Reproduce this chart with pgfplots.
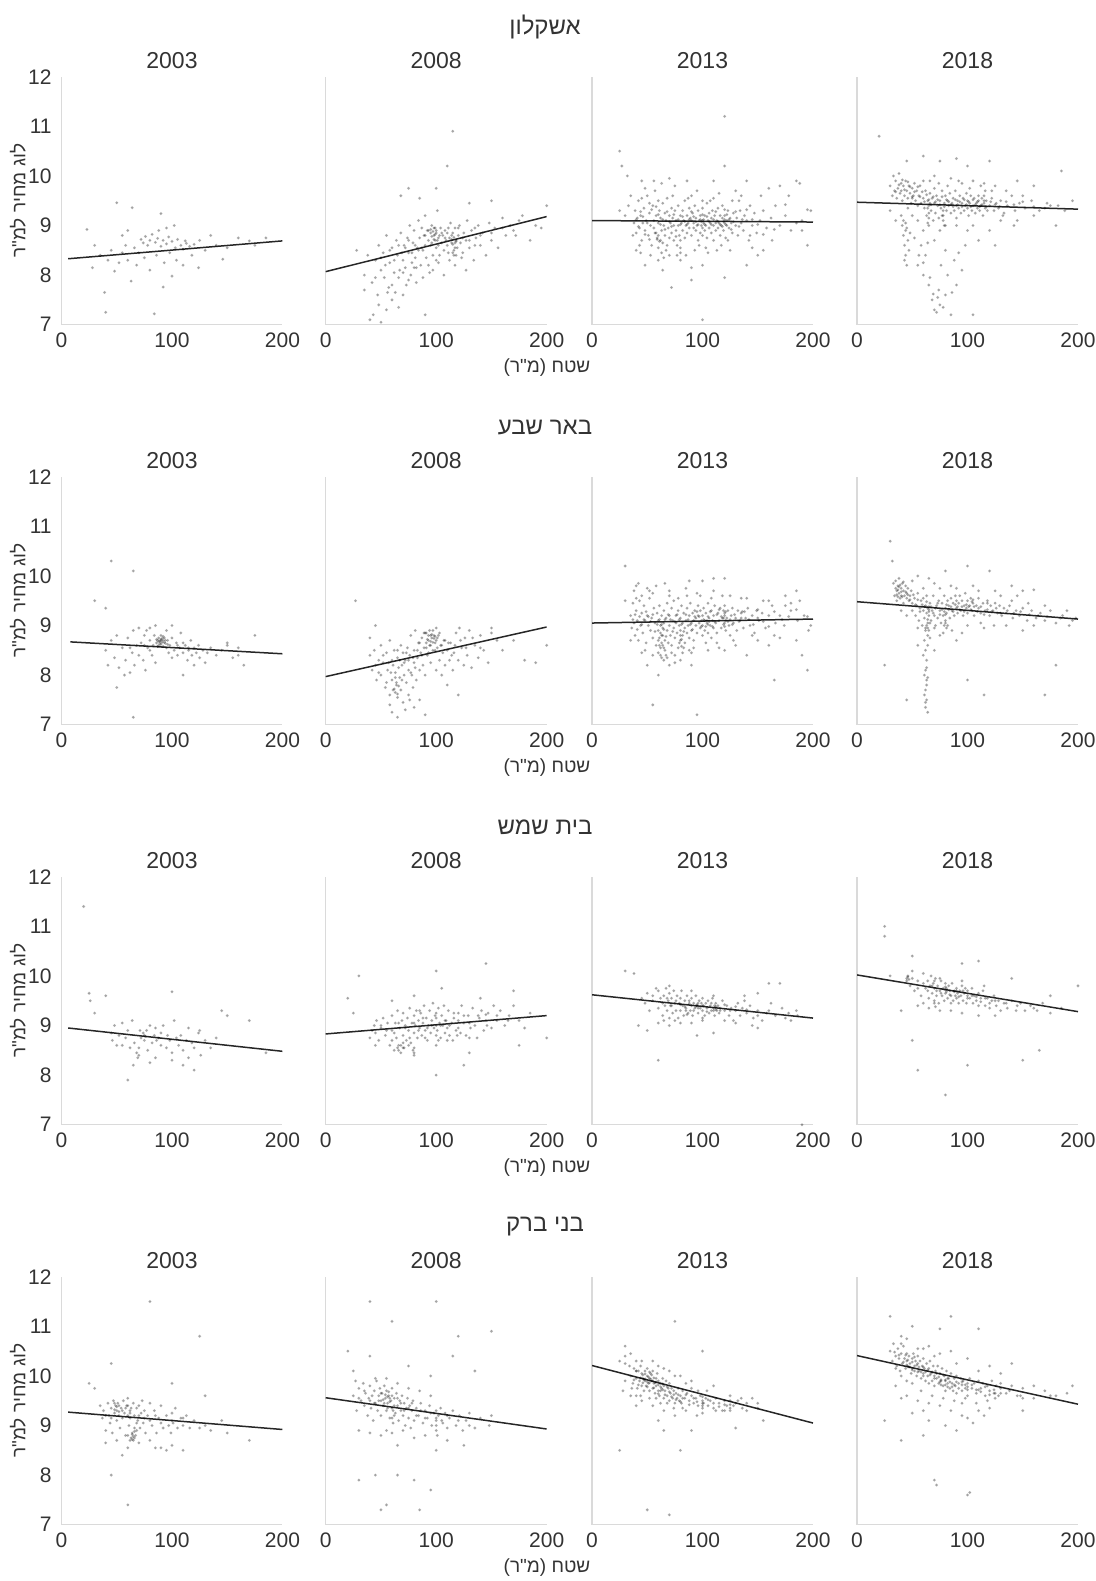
\documentclass[border=0pt]{standalone}
\usepackage{fontspec}
\setmainfont{Liberation Sans}
\newfontfamily\heb[Script=Hebrew]{Liberation Sans}
\usepackage{pgfplots}
\pgfplotsset{compat=1.18}
\TeXXeTstate=1
\newcommand{\he}[1]{{\heb\beginR #1\endR}}
\definecolor{txt}{HTML}{333333}
\definecolor{axgray}{HTML}{DADADA}

\pgfplotsset{
  every axis title shift=0pt,
  panel/.style={
    scale only axis, width=110.5pt, height=124pt, anchor=south west,
    xmin=0, xmax=200, ymin=7, ymax=12,
    axis lines*=left, axis line style={axgray, line width=0.6pt},
    xtick={0,100,200}, ytick=\empty, major tick length=0pt,
    tick label style={font=\fontsize{10.5}{12}\selectfont, text=txt},
    /pgf/number format/assume math mode=true,
    xticklabel style={anchor=center, yshift=-7.65pt},
    title style={font=\fontsize{11.5}{13}\selectfont, text=txt, at={(0.5,1)}, anchor=center, yshift=8pt},
  },
  firstcol/.style={
    ytick={7,8,9,10,11,12},
    yticklabel style={anchor=east, inner sep=0pt, xshift=-4.75pt},
    ylabel={\he{לוג מחיר למ"ר}},
    ylabel style={at={(axis description cs:-0.197,0.5)}, anchor=center, font=\fontsize{9.5}{11}\selectfont, text=txt},
  },
  pts/.style={only marks, mark=*, mark size=0.55pt, mark options={draw=none, fill=black, opacity=0.22}},
  fit/.style={no marks, black!85, line width=0.75pt},
}
\tikzset{city/.style={font=\fontsize{12}{14}\selectfont, text=txt},
  xlab/.style={font=\fontsize{9.5}{11}\selectfont, text=txt}}

\begin{document}
\begin{tikzpicture}
\path[use as bounding box] (0,0) rectangle (548pt,-790.5pt);

% ---------------- Ashkelon ----------------
\node[city] at (272.5pt,-13.5pt) {\he{אשקלון}};
\node[xlab] at (273.5pt,-184pt) {\he{שטח (מ"ר)}};

\begin{axis}[panel, firstcol, at={(30.75pt,-162.35pt)}, title={2003}]
\addplot[pts] coordinates {(23,8.92)(40,7.25)(39,7.65)(50,9.46)(64,9.36)(90,9.24)(92,7.76)(84,7.22)(48,8.08)(63,7.88)(100,7.98)(112,8.69)(146,8.32)(170,8.69)
(72,8.72)(74,8.65)(76,8.78)(78,8.6)(80,8.7)(82,8.82)(85,8.66)(87,8.74)(88,8.9)(90,8.58)(92,8.7)(95,8.63)(97,8.77)(100,8.68)(103,8.55)(105,8.72)(108,8.6)(110,8.52)(113,8.64)(116,8.58)(120,8.62)(125,8.7)
(30,8.6)(35,8.4)(42,8.3)(45,8.5)(52,8.25)(55,8.45)(58,8.6)(60,8.3)(66,8.55)(68,8.2)(70,8.45)(75,8.35)(80,8.1)(86,8.4)(93,8.25)(98,8.45)(104,8.3)(110,8.2)(118,8.4)(124,8.15)(130,8.5)(135,8.8)(140,8.6)(150,8.55)(160,8.75)(175,8.6)(185,8.75)(95,8.95)(102,9.0)(60,8.9)(55,8.8)(28,8.15)};
\addplot[fit] coordinates {(6,8.33)(200,8.69)};
\end{axis}

\begin{axis}[panel, at={(162.85pt,-162.35pt)}, title={2008}]
\addplot[pts] coordinates {(115,10.9)(110,10.2)(68,9.6)(75,9.75)(85,9.55)(100,9.75)(130,9.45)(150,9.5)(200,9.4)(175,9.1)(185,8.7)(28,8.5)(40,7.1)(43,7.2)(50,7.05)(55,7.3)(60,7.5)(90,7.2)(70,7.6)(75,7.9)(35,8.0)(50,8.1)
(45,8.3)(48,8.6)(52,8.45)(55,8.8)(58,8.25)(60,8.55)(62,8.05)(64,8.7)(65,8.4)(66,7.95)(68,8.85)(70,8.3)(71,8.6)(72,8.15)(74,8.75)(75,8.45)(76,9.0)(78,8.25)(79,8.65)(80,8.9)(81,8.35)(82,7.85)(83,8.55)(84,9.1)(85,8.75)(86,8.2)(87,8.95)(88,8.5)(89,8.8)(90,8.6)(90,9.2)(91,8.35)(92,8.9)(93,8.7)(94,8.05)(95,8.85)(95,8.6)(96,9.0)(97,8.4)(98,8.8)(98,8.95)(99,8.7)(100,8.55)(100,8.85)(101,9.3)(102,8.75)(103,8.4)(104,8.95)(105,8.65)(106,8.8)(107,8.5)(108,8.9)(109,8.7)(110,8.6)(110,8.85)(111,8.45)(112,8.75)(113,9.05)(114,8.65)(115,8.85)(116,8.5)(117,8.95)(118,8.7)(119,8.55)(120,8.8)(121,9.0)(122,8.65)(124,8.45)(125,8.85)(127,8.7)(128,9.1)(130,8.55)(132,8.9)(134,8.3)(136,8.75)(138,9.0)(140,8.6)(142,8.85)(145,8.4)(148,9.05)(150,8.7)(153,8.95)(156,8.55)(160,9.15)(163,8.8)(167,9.0)(170,8.9)(178,9.2)(190,9.0)(195,8.95)
(35,7.7)(38,8.4)(42,7.85)(47,7.6)(53,7.95)(57,7.75)(63,7.65)(67,8.1)(73,7.8)(77,8.0)(82,8.15)(88,7.95)(93,8.2)(97,8.1)(102,8.25)(107,8.0)(112,8.3)(117,8.2)(123,8.35)(127,8.1)
(96,8.78)(98,8.72)(99,8.82)(101,8.7)(103,8.8)(114,8.72)(115,8.62)(116,8.76)(117,8.55)(115,8.45)(116,8.4)(118,8.68)(100,8.9)(97,8.88)(95,8.92)};
\addplot[pts] coordinates {(50,8.35)(54,8.2)(58,8.5)(62,8.3)(66,8.6)(69,8.45)(72,8.55)(75,8.7)(78,8.45)(81,8.6)(84,8.5)(87,8.55)(90,8.8)(93,8.9)(96,8.65)(99,8.95)(102,8.6)(105,8.85)(108,8.75)(111,8.95)(114,8.8)(117,8.65)(120,8.95)(124,8.75)(130,8.7)(135,8.95)(140,8.8)(150,8.85)(160,8.95)(172,8.8)(45,7.95)(60,7.8)(70,8.05)(80,8.15)(100,8.3)(118,8.4)(135,8.6)(48,7.4)(66,7.35)(56,7.65)};
\addplot[fit] coordinates {(0,8.07)(200,9.18)};
\end{axis}

\begin{axis}[panel, at={(296pt,-162.35pt)}, title={2013}]
\addplot[pts] coordinates {(25,10.5)(27,10.2)(32,10.0)(45,9.9)(63,9.85)(70,9.95)(110,9.9)(120,11.2)(130,9.7)(160,9.75)(170,9.8)(185,9.9)(188,9.85)(198,9.3)(195,8.6)(150,8.4)(155,8.5)(120,7.95)(100,7.1)(72,7.75)(100,8.2)(80,8.3)(90,8.15)(30,9.2)(25,9.3)(190,9.1)
(38,9.05)(39,9.3)(40,8.85)(41,9.15)(42,9.5)(43,8.95)(44,9.2)(45,8.7)(46,9.05)(47,9.35)(48,8.9)(49,9.1)(50,9.6)(51,8.8)(52,9.25)(53,9.0)(54,8.6)(55,9.4)(56,9.1)(57,8.85)(58,9.2)(59,8.75)(60,9.05)(60,8.55)(61,9.3)(62,8.7)(62,9.15)(63,8.9)(64,9.45)(64,8.65)(65,9.0)(66,9.25)(66,8.8)(67,9.1)(68,8.6)(68,9.55)(69,8.95)(70,9.2)(70,8.75)(71,9.05)(72,9.35)(72,8.85)(73,9.15)(74,8.7)(74,9.0)(75,9.3)(76,8.9)(76,9.1)(77,8.6)(78,9.4)(78,9.0)(79,8.8)(80,9.2)(80,8.55)(80,8.7)(80,8.45)(81,9.05)(82,9.3)(82,8.9)(83,9.1)(84,8.75)(84,9.5)(85,9.0)(86,9.2)(86,8.85)(87,9.05)(88,9.35)(88,8.95)(89,9.15)(90,8.8)(90,9.1)(91,9.25)(92,8.95)(92,9.05)(93,9.4)(94,8.9)(94,9.15)(95,9.0)(96,8.7)(96,9.3)(97,9.1)(98,8.85)(98,9.2)(99,9.0)(100,9.1)(100,8.8)(100,9.35)(101,9.05)(102,8.9)(102,9.2)(103,9.0)(104,9.45)(104,8.75)(105,9.1)(106,8.95)(106,9.25)(107,9.05)(108,8.85)(108,9.15)(109,9.3)(110,9.0)(110,8.7)(111,9.2)(112,9.05)(112,8.9)(113,9.1)(114,9.35)(114,8.95)(115,9.05)(116,9.2)(116,8.8)(117,9.0)(118,9.15)(118,9.4)(119,8.9)(120,9.05)(120,9.2)(121,8.75)(122,9.1)(122,9.0)(123,9.3)(124,8.95)(125,9.15)(126,9.05)(127,8.85)(128,9.25)(130,9.0)(131,9.15)(132,8.8)(134,9.3)(135,9.05)(137,8.9)(138,9.2)(140,9.1)(142,8.7)(143,9.4)(145,9.0)(147,9.25)(149,8.85)(152,9.1)(155,9.3)(158,8.95)(162,9.15)(166,9.4)(170,9.0)(175,9.2)(180,8.9)(185,9.05)
(35,9.6)(40,8.5)(48,9.75)(53,8.4)(57,9.7)(65,8.35)(75,9.8)(85,8.4)(95,9.7)(105,8.45)(115,9.65)(125,8.5)(135,9.6)(145,8.55)(60,8.3)(70,8.4)(90,9.6)(110,9.55)(44,8.45)(100,9.5)
(59,8.72)(60,8.8)(61,8.68)(58,8.85)(100,8.95)(101,9.12)(99,9.08)(120,9.12)(121,9.02)(119,9.08)};
\addplot[pts] coordinates {(40,9.12)(42,8.98)(44,9.28)(46,9.18)(48,8.82)(50,9.05)(52,8.72)(54,9.32)(56,8.95)(58,9.38)(60,9.22)(62,9.02)(64,9.12)(66,8.92)(68,9.28)(70,9.08)(72,8.98)(74,9.22)(76,8.78)(78,9.12)(80,9.02)(82,9.18)(84,9.08)(86,9.02)(88,9.12)(90,9.28)(92,9.18)(94,9.08)(96,9.02)(98,9.12)(100,9.22)(102,9.02)(104,9.18)(106,9.08)(108,9.02)(110,9.12)(112,9.28)(114,9.08)(116,9.02)(118,8.98)(120,9.32)(122,9.22)(124,9.12)(126,8.92)(128,9.08)(130,9.28)(133,8.98)(136,9.12)(140,9.32)(145,9.12)(150,9.02)(155,8.82)(165,8.92)(175,9.42)(195,9.32)
(45,9.55)(52,9.45)(60,9.5)(67,8.5)(73,9.6)(87,9.55)(97,8.6)(107,9.5)(117,8.6)(127,9.5)(37,8.8)(33,9.4)(43,8.6)(63,8.45)(77,8.4)(93,8.5)(103,8.55)(113,8.5)(123,8.7)(133,9.5)(143,8.8)(153,9.6)(163,8.7)(178,9.6)(190,8.9)(56,9.9)(86,9.9)(140,9.9)(120,10.2)(64,8.1)(90,7.9)(140,8.2)(48,8.2)};
\addplot[fit] coordinates {(0,9.1)(200,9.07)};
\end{axis}

\begin{axis}[panel, at={(428.5pt,-162.35pt)}, title={2018}]
\addplot[pts] coordinates {(20,10.8)(120,10.3)(185,10.1)(180,9.0)(160,9.8)(150,9.6)(175,9.4)(195,9.5)(60,10.4)(75,10.3)(90,10.35)(100,10.2)(45,10.3)
(30,9.8)(32,9.6)(33,10.0)(34,9.7)(35,9.9)(36,9.55)(37,9.75)(38,10.05)(39,9.65)(40,9.85)(40,9.7)(41,9.5)(42,9.8)(43,9.6)(44,9.9)(45,9.7)(46,9.55)(47,9.8)(48,9.65)(49,9.45)(50,9.75)(51,9.6)(52,9.85)(53,9.5)(54,9.7)(55,9.4)(56,9.6)(57,9.8)(58,9.45)
(60,9.55)(61,9.35)(62,9.7)(63,9.2)(64,9.5)(65,9.0)(65,9.4)(66,9.65)(67,9.3)(68,9.55)(69,9.1)(70,9.45)(70,9.75)(71,9.25)(72,9.6)(73,9.4)(74,9.15)(75,9.5)(76,9.35)(77,9.7)(78,9.2)(79,9.45)(80,9.6)(80,9.0)(81,9.3)(82,9.5)(83,9.4)(84,9.65)(85,9.25)(86,9.45)(87,9.55)(88,9.3)(89,9.7)(90,9.4)(90,9.15)(91,9.5)(92,9.35)(93,9.6)(94,9.25)(95,9.45)(96,9.55)(97,9.3)(98,9.4)(99,9.65)(100,9.35)(100,9.5)(101,9.2)(102,9.45)(103,9.6)(104,9.3)(105,9.4)(106,9.55)(107,9.25)(108,9.45)(109,9.35)(110,9.5)(110,9.6)(111,9.3)(112,9.4)(113,9.55)(114,9.2)(115,9.45)(116,9.35)(117,9.5)(118,9.3)(120,9.4)(122,9.55)(124,9.3)(126,9.45)(128,9.35)(130,9.5)(133,9.25)(136,9.4)(140,9.6)(143,9.3)(147,9.45)(152,9.35)(158,9.5)(165,9.3)(172,9.45)(188,9.3)
(64,9.05)(65,9.15)(65,9.25)(64,9.35)(66,9.45)(78,9.1)(78,9.3)(79,9.0)(77,9.2)(115,9.5)(115,9.6)(116,9.7)
(40,9.2)(41,9.0)(42,8.8)(43,8.6)(44,8.4)(45,8.2)(42,9.1)(44,8.9)(46,8.7)(43,8.3)(47,8.5)(45,8.95)
(55,8.2)(60,8.0)(65,7.8)(68,7.5)(70,7.3)(72,7.25)(75,7.4)(80,7.6)(85,7.2)(90,7.8)(95,8.1)(62,8.4)(58,8.6)(70,8.7)(80,8.5)(88,8.3)(100,8.9)(110,8.7)(120,8.9)(125,8.6)(105,7.2)(73,7.55)(69,7.62)
(30,9.3)(35,9.1)(50,9.2)(55,9.1)(60,9.9)(70,10.0)(85,9.95)(95,9.85)(105,9.9)(115,9.85)(125,9.8)(135,9.7)(145,9.9)(60,8.9)(75,8.9)(90,9.0)(105,9.0)(130,9.1)(145,9.1)(160,9.2)};
\addplot[pts] coordinates {(35,9.68)(38,9.82)(41,9.92)(43,9.72)(46,9.88)(48,9.78)(50,9.58)(52,9.68)(55,9.78)(57,9.58)(59,9.68)(61,9.48)(63,9.62)(65,9.52)(67,9.42)(69,9.58)(71,9.48)(73,9.52)(75,9.42)(77,9.58)(79,9.38)(81,9.52)(83,9.48)(85,9.42)(87,9.38)(89,9.52)(91,9.42)(93,9.48)(95,9.38)(97,9.52)(99,9.42)(101,9.48)(103,9.38)(105,9.52)(107,9.42)(109,9.48)(111,9.38)(113,9.42)(117,9.38)(121,9.48)(125,9.42)(129,9.38)(135,9.48)(142,9.42)(150,9.48)(160,9.38)(170,9.35)(182,9.4)
(44,9.05)(46,9.35)(48,8.85)(50,9.55)(52,8.75)(66,9.9)(74,9.85)(82,9.8)(92,9.9)(102,9.75)(112,9.8)(122,9.7)(132,9.2)(142,9.0)(56,8.4)(60,8.25)(66,7.95)(74,7.7)(78,7.35)(82,8.0)(86,7.65)(92,8.45)(98,8.6)(64,8.65)(76,8.2)};
\addplot[fit] coordinates {(0,9.47)(200,9.33)};
\end{axis}

% ---------------- Beer Sheva ----------------
\node[city] at (272.5pt,-213.5pt) {\he{באר שבע}};
\node[xlab] at (273.5pt,-384pt) {\he{שטח (מ"ר)}};

\begin{axis}[panel, firstcol, at={(30.75pt,-362.35pt)}, title={2003}]
\addplot[pts] coordinates {(45,10.3)(65,10.1)(30,9.5)(40,9.35)(65,7.15)(50,7.75)(175,8.8)(165,8.2)(150,8.6)(160,8.4)
(40,8.5)(42,8.2)(45,8.7)(48,8.35)(50,8.8)(52,8.15)(55,8.55)(58,8.3)(60,8.75)(62,8.05)(64,8.45)(65,8.9)(66,8.2)(68,8.6)(70,8.4)(70,8.95)(72,8.65)(74,8.3)(75,8.8)(76,8.1)(78,8.55)(80,8.7)(80,8.95)(82,8.4)(83,8.6)(84,8.8)(85,8.25)(86,8.65)(87,8.7)(88,8.6)(88,8.75)(89,8.68)(90,8.62)(90,8.72)(90,8.8)(91,8.66)(92,8.58)(92,8.7)(93,8.75)(94,8.64)(95,8.55)(95,8.9)(96,8.7)(97,8.45)(98,8.6)(100,8.35)(100,8.75)(102,8.5)(104,8.65)(105,8.4)(107,8.55)(108,8.85)(110,8.45)(112,8.6)(114,8.3)(115,8.5)(117,8.7)(118,8.4)(120,8.55)(120,8.2)(122,8.45)(124,8.6)(125,8.35)(128,8.5)(130,8.25)(132,8.45)(135,8.55)(140,8.4)(145,8.5)(150,8.65)(155,8.35)(160,8.55)(62,8.55)(57,8.0)(77,8.9)(110,8.0)(100,9.0)(85,9.0)
(86,8.72)(88,8.68)(90,8.7)(91,8.74)(93,8.66)(89,8.64)(92,8.78)(87,8.58)(94,8.7)(96,8.62)(105,8.6)(110,8.65)(115,8.55)(75,8.6)(80,8.5)};
\addplot[fit] coordinates {(8,8.67)(200,8.43)};
\end{axis}

\begin{axis}[panel, at={(162.85pt,-362.35pt)}, title={2008}]
\addplot[pts] coordinates {(27,9.5)(45,9.0)(40,8.75)(65,7.15)(60,7.25)(80,7.35)(90,7.2)(120,7.6)(150,8.95)(150,8.85)(180,8.3)(190,8.25)(200,8.6)(170,8.7)(160,8.5)
(40,8.4)(42,8.1)(44,8.5)(46,7.9)(48,8.3)(50,8.6)(50,8.0)(52,8.25)(54,7.75)(55,8.45)(56,8.1)(58,8.7)(58,7.6)(60,8.3)(60,7.9)(61,7.7)(62,8.5)(63,8.05)(64,7.8)(65,8.35)(65,7.55)(66,8.15)(67,7.95)(68,8.6)(68,7.7)(69,8.2)(70,7.45)(70,8.45)(71,8.0)(72,8.3)(73,7.85)(74,8.55)(75,8.1)(75,7.6)(76,8.4)(77,8.8)(78,8.0)(79,7.75)(80,8.5)(80,8.25)(81,8.9)(82,7.9)(83,8.35)(84,8.65)(85,8.1)(85,7.5)(86,8.45)(87,8.75)(88,8.2)(89,8.55)(90,8.0)(90,8.85)(91,8.65)(92,8.4)(93,8.7)(94,8.9)(95,8.6)(95,8.25)(96,8.75)(97,8.5)(98,8.8)(99,8.65)(100,8.1)(100,8.7)(100,8.95)(101,8.55)(102,8.8)(103,8.3)(104,8.6)(105,8.0)(106,8.45)(107,8.7)(108,8.2)(110,8.5)(110,7.8)(112,8.3)(113,8.65)(115,8.1)(116,8.45)(118,8.85)(120,8.3)(121,8.95)(123,8.55)(125,8.2)(126,8.75)(128,8.4)(130,8.9)(132,8.15)(135,8.6)(138,8.35)(140,8.8)(143,8.5)(147,8.25)(155,8.7)
(92,8.72)(93,8.8)(95,8.68)(96,8.82)(97,8.66)(98,8.74)(94,8.6)(99,8.78)(91,8.85)(62,7.72)(63,7.65)(64,7.85)(66,7.78)(65,7.62)};
\addplot[pts] coordinates {(45,8.2)(48,8.05)(52,8.4)(55,7.85)(57,8.25)(59,8.05)(61,8.2)(63,7.95)(65,8.5)(67,8.3)(69,7.9)(71,8.25)(73,8.45)(75,8.3)(77,8.05)(79,8.35)(81,8.15)(83,8.5)(85,8.65)(87,8.4)(89,8.85)(91,8.55)(93,8.45)(95,8.8)(97,8.9)(99,8.5)(101,8.75)(103,8.85)(105,8.6)(108,8.7)(111,8.65)(114,8.4)(117,8.6)(122,8.7)(127,8.55)(133,8.75)(140,8.55)(58,7.4)(72,7.3)(76,7.5)};
\addplot[fit] coordinates {(0,7.97)(200,8.97)};
\end{axis}

\begin{axis}[panel, at={(296pt,-362.35pt)}, title={2013}]
\addplot[pts] coordinates {(30,10.2)(40,9.8)(55,7.4)(95,7.2)(165,7.9)(60,8.0)(100,9.9)(120,9.95)(190,8.4)(195,8.1)(185,9.7)(175,9.6)(30,9.5)(35,8.7)(75,8.25)(80,8.3)
(35,9.2)(36,8.95)(37,9.45)(38,9.05)(39,8.8)(40,9.3)(41,9.1)(42,8.7)(43,9.5)(44,9.0)(45,9.25)(46,8.85)(47,9.4)(48,9.1)(49,8.65)(50,9.2)(51,9.0)(52,9.55)(53,8.9)(54,9.15)(55,8.75)(56,9.35)(57,9.05)(58,8.6)(59,9.25)(60,8.9)(60,9.1)(60,8.7)(61,9.4)(62,8.55)(62,9.0)(63,9.2)(64,8.8)(64,8.6)(65,9.05)(65,9.3)(66,8.7)(66,8.5)(67,9.15)(68,8.9)(68,9.45)(69,8.65)(70,9.0)(70,9.2)(71,8.8)(72,9.35)(72,8.6)(73,9.1)(74,8.95)(74,9.5)(75,8.75)(76,9.2)(76,9.05)(77,8.85)(78,9.3)(78,8.55)(79,9.0)(80,8.7)(80,9.15)(80,8.9)(81,9.4)(82,8.8)(82,9.05)(83,9.25)(84,8.95)(84,8.65)(85,9.1)(86,9.35)(86,8.85)(87,9.0)(88,9.2)(88,8.75)(89,9.45)(90,9.05)(90,8.9)(91,9.25)(92,9.1)(92,8.7)(93,9.3)(94,9.0)(94,9.15)(95,8.85)(96,9.4)(96,9.2)(97,9.05)(98,8.95)(98,9.3)(99,9.1)(100,9.2)(100,8.8)(100,9.0)(101,9.35)(102,9.1)(102,8.9)(103,9.25)(104,9.05)(105,9.45)(105,8.85)(106,9.15)(107,9.0)(108,9.3)(108,8.75)(109,9.1)(110,9.2)(110,8.95)(111,9.4)(112,9.05)(113,8.85)(114,9.25)(115,9.1)(116,9.35)(117,8.95)(118,9.15)(119,9.3)(120,9.05)(120,9.2)(120,9.4)(121,8.9)(122,9.15)(123,9.3)(124,9.0)(125,8.8)(126,9.2)(127,9.35)(128,9.05)(130,9.15)(131,8.9)(132,9.3)(134,9.1)(135,9.25)(137,8.95)(139,9.15)(141,9.35)(143,9.0)(145,9.2)(147,8.85)(149,9.3)(151,9.1)(154,9.25)(157,8.95)(160,9.2)(163,9.4)(166,9.05)(170,9.2)(174,9.0)(180,9.3)(186,9.1)(192,9.2)(198,9.0)
(38,9.7)(45,8.45)(50,9.75)(55,8.4)(58,9.8)(65,8.3)(70,9.7)(75,8.4)(85,9.75)(90,8.45)(95,9.65)(105,8.5)(110,9.7)(115,8.55)(125,9.6)(130,8.6)(140,9.55)(150,8.7)(160,9.5)(170,8.75)(180,9.45)(62,8.4)(68,8.35)(82,8.45)(88,8.5)(45,9.6)(55,9.65)
(61,8.75)(62,8.85)(63,8.65)(64,8.95)(63,8.8)(61,8.6)(79,8.65)(80,8.8)(81,8.72)(81,8.58)(104,9.1)(105,9.02)(106,9.08)(119,9.15)(120,9.25)(121,9.1)(120,8.98)(135,9.15)(136,9.28)(150,9.15)};
\addplot[pts] coordinates {(37,9.12)(39,9.22)(41,8.92)(43,9.18)(45,9.02)(47,9.12)(49,9.28)(51,9.18)(53,9.08)(55,9.22)(57,8.88)(59,9.02)(61,9.12)(63,9.02)(65,8.92)(66,9.12)(67,8.78)(69,9.22)(71,9.12)(73,8.88)(75,9.08)(77,9.22)(79,9.12)(81,9.02)(83,8.88)(85,9.22)(87,9.12)(89,9.02)(91,8.92)(93,9.18)(95,9.28)(97,9.18)(99,8.98)(101,9.12)(103,8.98)(105,9.18)(107,9.28)(109,8.98)(111,9.08)(113,9.22)(115,9.32)(117,9.18)(119,9.02)(121,9.28)(123,9.08)(125,9.12)(127,9.02)(129,9.22)(133,9.08)(138,9.28)(142,9.12)(146,9.02)(150,9.32)(155,9.08)(160,8.98)(165,9.28)(172,9.12)(178,9.18)(185,9.32)(195,9.18)
(40,9.55)(48,8.5)(52,9.7)(60,8.45)(63,8.35)(65,8.55)(67,8.4)(70,9.6)(72,8.45)(78,9.55)(83,8.55)(86,9.6)(92,8.55)(98,9.6)(103,8.65)(108,9.55)(113,8.65)(118,9.6)(128,8.7)(135,9.55)(145,8.8)(155,9.5)(165,8.8)(175,9.4)(188,9.5)(196,8.9)(42,9.85)(66,9.85)(88,9.9)(110,9.95)(50,8.2)(70,8.2)(90,8.2)(120,8.5)(140,8.4)(160,8.6)(185,8.7)};
\addplot[fit] coordinates {(0,9.05)(200,9.13)};
\end{axis}

\begin{axis}[panel, at={(428.5pt,-362.35pt)}, title={2018}]
\addplot[pts] coordinates {(30,10.7)(32,10.3)(25,8.2)(45,7.5)(70,8.5)(55,8.6)(90,8.7)(100,7.9)(115,7.6)(170,7.6)(180,8.2)(100,10.2)(120,10.1)(80,10.1)(140,9.8)(150,9.7)
(33,9.85)(34,9.6)(35,9.9)(36,9.7)(36,9.5)(37,9.8)(38,9.65)(38,9.95)(39,9.55)(40,9.75)(40,9.6)(41,9.85)(42,9.45)(42,9.7)(43,9.6)(44,9.8)(45,9.55)(45,9.65)(46,9.75)(47,9.5)(48,9.6)(49,9.7)(50,9.45)(36,9.62)(37,9.72)(39,9.82)(41,9.58)
(50,9.3)(52,9.55)(53,9.2)(54,9.4)(55,9.65)(56,9.1)(57,9.35)(58,9.5)(59,9.0)(60,9.3)(60,9.55)(61,9.15)(62,9.4)(62,8.95)(63,9.25)(63,9.6)(64,9.05)(64,9.35)(65,9.2)(65,8.9)(66,9.45)(67,9.1)(68,9.3)(69,9.6)(70,9.2)(71,9.0)(72,9.4)(73,9.15)(74,9.5)(75,9.3)(76,9.05)(77,9.45)(78,9.2)(79,9.6)(80,9.35)(80,9.1)(81,9.25)(82,9.5)(82,9.0)(83,9.4)(84,9.15)(85,9.55)(86,9.3)(87,9.45)(88,9.2)(89,9.6)(90,9.35)(90,9.5)(91,9.25)(92,9.45)(93,9.6)(94,9.3)(95,9.5)(96,9.2)(97,9.4)(98,9.65)(99,9.35)(100,9.25)(100,9.5)(102,9.4)(103,9.55)(104,9.3)(105,9.45)(106,9.2)(108,9.4)(110,9.35)(110,9.55)(112,9.25)(114,9.45)(116,9.3)(118,9.5)(120,9.2)(121,9.4)(123,9.3)(125,9.45)(127,9.25)(129,9.4)(131,9.2)(133,9.35)(135,9.25)(138,9.4)(141,9.15)(144,9.3)(147,9.2)(150,9.35)(154,9.1)(158,9.3)(162,9.15)(166,9.25)(170,9.1)(175,9.3)(180,9.05)(186,9.2)(192,9.0)(198,9.15)
(63,9.0)(64,9.12)(65,9.28)(66,9.05)(64,8.95)(65,9.38)(79,9.0)(80,9.22)(81,8.95)(80,9.05)(104,9.48)(105,9.52)(118,9.45)(160,9.72)
(61,8.7)(62,8.5)(63,8.3)(62,8.1)(63,7.9)(62,7.7)(63,7.5)(62,7.35)(64,7.25)(61,8.0)(64,8.6)(63,7.8)
(45,9.2)(50,9.9)(55,8.95)(70,9.85)(75,8.8)(85,9.8)(95,8.85)(105,9.8)(115,8.95)(125,9.7)(135,9.0)(145,9.6)(55,10.0)(65,9.95)(40,9.3)};
\addplot[pts] coordinates {(35,9.75)(37,9.58)(38,9.78)(40,9.68)(42,9.88)(44,9.68)(46,9.62)(48,9.52)(51,9.62)(53,9.42)(55,9.52)(57,9.28)(59,9.42)(61,9.38)(63,9.48)(65,9.32)(67,9.38)(69,9.25)(71,9.35)(73,9.45)(75,9.22)(77,9.32)(79,9.28)(81,9.42)(83,9.32)(85,9.38)(87,9.28)(89,9.42)(91,9.38)(93,9.32)(95,9.38)(97,9.28)(99,9.42)(101,9.38)(103,9.32)(106,9.38)(109,9.28)(112,9.38)(115,9.22)(118,9.32)(122,9.28)(126,9.35)(130,9.25)(136,9.3)(142,9.25)(148,9.28)(156,9.22)(164,9.2)(172,9.18)(184,9.15)(195,9.1)
(60,8.4)(63,8.15)(61,7.6)(64,7.95)(62,7.45)(62,8.9)(64,8.8)(66,8.75)(70,8.95)(78,8.85)(86,8.9)(100,9.0)(112,9.05)(124,9.0)(140,9.5)(155,9.45)(170,9.4)(190,9.3)(60,9.75)(75,9.75)(90,9.75)(110,9.7)(130,9.6)(150,8.9)(160,9.0)};
\addplot[fit] coordinates {(0,9.48)(200,9.13)};
\end{axis}

% ---------------- Beit Shemesh ----------------
\node[city] at (272.5pt,-413.5pt) {\he{בית שמש}};
\node[xlab] at (273.5pt,-584pt) {\he{שטח (מ"ר)}};

\begin{axis}[panel, firstcol, at={(30.75pt,-562.35pt)}, title={2003}]
\addplot[pts] coordinates {(20,11.4)(25,9.65)(26,9.5)(40,9.6)(100,9.68)(145,9.3)(170,9.1)(60,7.9)(120,8.1)(100,8.3)(65,8.2)(185,8.45)(150,9.2)(30,9.25)
(45,8.85)(46,8.7)(48,9.0)(50,8.6)(52,8.8)(55,9.05)(58,8.75)(60,8.9)(62,8.55)(64,9.1)(66,8.65)(68,8.45)(69,8.35)(70,8.55)(71,8.9)(72,8.75)(74,8.85)(75,8.8)(75,8.7)(76,8.78)(77,8.9)(78,8.5)(80,9.0)(82,8.65)(84,8.8)(85,8.95)(86,8.7)(88,8.75)(90,8.6)(90,8.85)(92,9.0)(95,8.55)(96,8.8)(98,8.7)(100,8.45)(102,9.1)(104,8.75)(106,8.6)(108,8.8)(110,8.5)(113,8.7)(115,8.95)(118,8.65)(120,8.55)(124,8.85)(126,8.4)(130,8.7)(135,8.55)(140,8.75)(115,8.35)(85,8.35)(80,8.25)(70,8.4)(110,8.2)(125,8.9)(55,8.6)};
\addplot[fit] coordinates {(6,8.95)(200,8.48)};
\end{axis}

\begin{axis}[panel, at={(162.85pt,-562.35pt)}, title={2008}]
\addplot[pts] coordinates {(30,10.0)(100,10.1)(145,10.25)(100,8.0)(125,8.2)(20,9.55)(25,9.25)(105,9.75)(170,9.7)(140,9.55)(60,9.5)(80,9.6)(200,8.75)(175,8.6)(130,8.45)
(40,8.75)(42,8.9)(44,9.0)(45,8.85)(46,9.1)(48,8.7)(50,8.95)(52,9.15)(54,8.8)(56,9.05)(58,8.6)(60,8.9)(60,9.2)(62,8.5)(63,9.05)(64,8.75)(65,9.3)(66,8.6)(67,8.95)(68,8.45)(69,9.1)(70,8.8)(70,9.25)(71,8.55)(72,9.0)(73,8.7)(74,9.15)(75,8.9)(76,9.35)(77,8.65)(78,9.05)(79,8.5)(80,8.85)(80,9.2)(80,8.45)(81,9.0)(82,9.3)(83,8.75)(84,9.1)(85,8.95)(86,9.25)(87,8.8)(88,9.05)(89,9.4)(90,8.9)(91,9.15)(92,8.7)(93,9.0)(94,9.3)(95,8.85)(96,9.1)(97,9.45)(98,8.95)(99,9.2)(100,8.8)(100,9.0)(100,9.25)(101,8.9)(102,9.35)(103,9.05)(104,8.75)(105,9.2)(106,9.0)(107,9.4)(108,8.85)(109,9.1)(110,8.95)(111,9.3)(112,8.8)(114,9.05)(115,8.7)(116,9.25)(118,8.9)(119,8.8)(120,9.1)(120,9.25)(122,8.85)(123,9.4)(125,9.05)(127,8.8)(129,9.2)(131,8.95)(133,9.35)(135,9.0)(137,8.75)(139,9.15)(141,9.3)(143,8.9)(145,9.1)(145,9.22)(147,9.25)(150,8.95)(152,9.4)(155,9.1)(158,9.3)(162,9.0)(166,9.2)(170,9.4)(175,9.1)(180,8.95)(185,9.25)
(45,8.6)(65,8.55)(68,8.6)(70,8.65)(66,8.5)(80,8.55)(80,8.4)(100,8.6)(102,8.7)};
\addplot[pts] coordinates {(50,9.0)(55,8.9)(62,8.85)(66,9.05)(72,8.95)(76,8.75)(80,9.05)(84,8.9)(88,9.15)(92,8.95)(96,9.0)(100,9.15)(104,9.0)(108,9.1)(112,9.0)(116,9.15)(120,8.95)(125,9.2)(130,9.05)(138,9.2)(146,9.0)(155,9.2)(165,9.1)(70,8.55)(75,8.6)(90,8.75)(110,8.7)(130,8.75)(60,8.7)(85,9.3)};
\addplot[fit] coordinates {(0,8.83)(200,9.2)};
\end{axis}

\begin{axis}[panel, at={(296pt,-562.35pt)}, title={2013}]
\addplot[pts] coordinates {(30,10.1)(38,10.05)(60,8.3)(95,8.8)(190,7.0)(160,9.85)(170,9.85)(150,9.65)(42,9.0)(50,8.9)(110,8.85)(150,8.95)(180,9.1)(185,9.3)
(45,9.55)(48,9.45)(50,9.65)(52,9.3)(55,9.5)(58,9.75)(60,9.35)(62,9.55)(64,9.2)(65,9.6)(66,9.4)(67,9.75)(68,9.3)(69,9.5)(70,9.15)(70,9.65)(71,9.4)(72,9.55)(73,9.25)(74,9.7)(75,9.45)(76,9.3)(77,9.6)(78,9.15)(79,9.45)(80,9.55)(80,9.3)(81,9.7)(82,9.4)(83,9.2)(84,9.5)(85,9.35)(86,9.6)(87,9.25)(88,9.45)(89,9.3)(90,9.55)(90,9.4)(91,9.2)(92,9.45)(93,9.35)(94,9.6)(95,9.4)(96,9.25)(97,9.5)(98,9.35)(99,9.45)(100,9.3)(100,9.55)(101,9.4)(102,9.2)(103,9.45)(104,9.35)(105,9.5)(106,9.25)(107,9.4)(108,9.3)(109,9.55)(110,9.35)(111,9.2)(112,9.45)(113,9.3)(114,9.4)(115,9.25)(116,9.35)(118,9.5)(120,9.3)(122,9.4)(124,9.2)(126,9.35)(128,9.1)(130,9.3)(132,9.45)(134,9.2)(136,9.35)(138,9.6)(140,9.25)(143,9.4)(146,9.15)(150,9.3)(154,9.1)(158,9.25)(162,9.45)(166,9.2)(172,9.35)(178,9.25)(186,9.2)
(94,9.38)(95,9.42)(96,9.35)(85,9.3)(86,9.22)(110,9.3)(111,9.4)(112,9.32)(138,9.5)
(60,9.05)(70,9.0)(80,9.05)(90,9.05)(100,9.1)(75,9.1)(65,9.1)(130,9.05)(145,9.0)};
\addplot[pts] coordinates {(55,9.6)(60,9.7)(64,9.45)(68,9.55)(72,9.4)(76,9.5)(80,9.42)(84,9.38)(88,9.5)(92,9.3)(96,9.45)(100,9.4)(104,9.28)(108,9.45)(112,9.38)(116,9.3)(120,9.42)(125,9.3)(130,9.38)(140,9.32)(150,9.2)(160,9.3)(175,9.15)(70,9.8)(90,9.7)(110,9.6)(120,9.1)(100,9.15)};
\addplot[fit] coordinates {(0,9.62)(200,9.15)};
\end{axis}

\begin{axis}[panel, at={(428.5pt,-562.35pt)}, title={2018}]
\addplot[pts] coordinates {(25,11.0)(25,10.8)(50,10.4)(55,8.1)(100,8.2)(150,8.3)(80,7.6)(165,8.5)(50,8.7)(40,9.3)(30,10.0)(175,9.6)(200,9.8)(140,9.95)(110,10.3)(95,10.25)
(45,9.95)(45,9.9)(46,10.0)(48,9.8)(50,10.1)(52,9.7)(55,9.9)(58,9.6)(60,10.05)(62,9.75)(64,9.9)(65,9.55)(66,9.8)(67,10.0)(68,9.65)(69,9.85)(70,9.5)(70,9.75)(71,9.95)(72,9.6)(73,9.8)(74,9.45)(75,9.7)(76,9.9)(77,9.6)(78,9.75)(79,9.5)(80,9.85)(80,9.65)(81,9.75)(82,9.55)(83,9.8)(84,9.7)(85,9.6)(86,9.85)(87,9.5)(88,9.7)(89,9.6)(90,9.75)(90,9.55)(91,9.65)(92,9.45)(93,9.7)(94,9.6)(95,9.8)(96,9.5)(97,9.65)(98,9.75)(99,9.45)(100,9.6)(100,9.7)(102,9.55)(104,9.75)(105,9.45)(106,9.6)(108,9.5)(110,9.65)(110,9.4)(112,9.55)(114,9.7)(116,9.4)(118,9.55)(120,9.35)(122,9.5)(124,9.6)(126,9.4)(128,9.5)(130,9.3)(133,9.45)(136,9.35)(140,9.5)(144,9.3)(148,9.45)(152,9.3)(157,9.4)(163,9.3)(168,9.45)(175,9.25)(185,9.35)
(46,9.98)(47,9.93)(70,9.45)(71,9.38)(80,9.72)(81,9.68)(90,9.7)
(55,9.4)(65,9.35)(75,9.3)(85,9.3)(95,9.25)(110,9.2)(125,9.2)(60,9.45)};
\addplot[pts] coordinates {(50,9.95)(55,9.75)(60,9.85)(64,9.7)(68,9.8)(72,9.7)(76,9.65)(80,9.78)(84,9.62)(88,9.68)(92,9.58)(96,9.7)(100,9.55)(104,9.6)(108,9.58)(112,9.48)(116,9.55)(120,9.45)(125,9.5)(135,9.45)(145,9.4)(160,9.35)(75,9.95)(95,9.9)(115,9.8)(85,9.45)(70,9.9)};
\addplot[fit] coordinates {(0,10.02)(200,9.28)};
\end{axis}

% ---------------- Bnei Brak ----------------
\node[city] at (272.5pt,-613.5pt) {\he{בני ברק}};
\node[xlab] at (273.5pt,-784pt) {\he{שטח (מ"ר)}};

\begin{axis}[panel, firstcol, at={(30.75pt,-762.35pt)}, title={2003}]
\addplot[pts] coordinates {(80,11.5)(125,10.8)(45,10.25)(60,7.4)(45,8.0)(170,8.7)(25,9.85)(30,9.75)(100,9.85)(130,9.6)(145,9.1)(150,8.85)(110,8.5)(90,8.55)(95,8.5)(55,8.4)
(35,9.4)(37,9.15)(38,9.3)(40,8.9)(42,9.45)(43,9.2)(44,9.05)(45,9.35)(46,8.85)(47,9.5)(48,9.25)(49,9.4)(50,9.1)(50,9.3)(51,9.45)(52,9.2)(53,8.95)(54,9.35)(55,9.15)(56,9.5)(57,9.25)(58,8.8)(59,9.4)(60,9.2)(60,9.55)(61,9.0)(62,9.3)(63,8.75)(64,8.85)(65,9.45)(65,8.7)(66,9.2)(67,8.8)(68,9.35)(68,8.9)(69,9.1)(70,9.4)(71,8.95)(72,9.25)(73,9.5)(74,9.05)(75,9.3)(76,8.85)(78,9.2)(80,9.45)(82,9.0)(84,9.3)(86,8.85)(88,9.15)(90,9.4)(92,8.95)(95,9.2)(97,9.0)(99,8.85)(100,9.25)(101,9.05)(103,9.35)(105,8.95)(108,9.15)(110,9.0)(113,9.2)(116,8.95)(120,9.1)(125,8.95)(130,9.0)(135,8.9)
(48,9.32)(50,9.38)(52,9.28)(62,9.25)(63,9.35)(64,8.82)(65,8.78)(66,8.88)(64,8.72)
(40,8.65)(50,8.7)(70,8.65)(80,8.7)(100,8.6)(60,8.55)(85,8.55)};
\addplot[pts] coordinates {(40,9.2)(45,9.15)(48,9.45)(52,9.4)(55,9.3)(58,9.35)(60,9.4)(62,9.15)(66,8.95)(68,9.05)(70,9.2)(75,9.15)(80,9.1)(85,9.2)(90,9.05)(100,9.1)(110,9.15)(60,8.8)(62,8.7)(66,8.75)};
\addplot[fit] coordinates {(6,9.27)(200,8.92)};
\end{axis}

\begin{axis}[panel, at={(162.85pt,-762.35pt)}, title={2008}]
\addplot[pts] coordinates {(40,11.5)(100,11.5)(60,11.1)(120,10.8)(40,10.4)(45,8.0)(30,7.9)(50,7.3)(80,7.9)(85,7.3)(95,7.7)(150,10.9)(20,10.5)(115,10.4)(135,10.1)(95,10.0)(75,10.2)(25,10.1)(55,7.4)(65,8.0)
(25,9.6)(27,9.9)(28,9.3)(30,9.75)(32,9.5)(34,9.85)(35,9.4)(36,9.65)(38,9.2)(39,9.55)(40,9.8)(41,9.35)(42,9.6)(43,9.1)(44,9.7)(45,9.45)(46,9.9)(47,9.3)(48,9.6)(49,9.75)(50,9.5)(50,9.2)(51,9.65)(52,9.4)(53,9.8)(54,9.55)(55,9.3)(55,9.7)(56,9.45)(57,9.6)(58,9.15)(59,9.5)(60,9.35)(60,9.75)(61,9.05)(62,9.55)(63,9.25)(64,9.65)(65,9.4)(66,9.1)(67,9.5)(68,9.3)(69,9.6)(70,9.2)(71,9.45)(72,9.0)(73,9.35)(74,9.55)(75,9.15)(76,9.4)(77,8.95)(78,9.3)(79,9.5)(80,9.1)(82,9.35)(84,9.2)(86,9.45)(88,9.05)(90,9.3)(92,9.15)(94,9.4)(96,9.0)(98,9.25)(100,9.1)(100,9.3)(100,8.9)(100,9.0)(101,8.8)(102,9.2)(104,9.35)(106,9.05)(108,9.25)(110,8.95)(112,9.15)(115,9.3)(118,9.0)(121,9.2)(124,8.9)(127,9.1)(130,9.25)(135,8.95)(140,9.15)(148,9.0)(150,9.2)
(52,9.52)(54,9.62)(56,9.58)(58,9.48)(60,9.6)(57,9.68)(61,9.3)(62,9.2)(60,9.15)
(30,8.9)(40,8.85)(50,8.8)(60,8.85)(70,8.9)(80,8.75)(90,8.8)(55,8.9)(65,8.6)(100,8.5)(110,8.7)(125,8.6)};
\addplot[pts] coordinates {(30,9.55)(35,9.7)(40,9.5)(44,9.45)(48,9.5)(50,9.65)(53,9.45)(56,9.35)(58,9.55)(62,9.4)(65,9.55)(68,9.45)(71,9.3)(75,9.35)(78,9.45)(82,9.2)(86,9.3)(90,9.15)(95,9.25)(100,9.15)(105,9.1)(110,9.2)(120,9.1)(130,9.0)(45,9.95)(55,9.95)(65,9.85)(75,9.75)(85,9.7)(95,9.6)};
\addplot[fit] coordinates {(0,9.56)(200,8.93)};
\end{axis}

\begin{axis}[panel, at={(296pt,-762.35pt)}, title={2013}]
\addplot[pts] coordinates {(75,11.1)(100,10.5)(30,10.6)(30,10.4)(25,8.5)(80,8.5)(50,7.3)(70,7.2)(90,8.9)(40,10.1)(35,10.45)(45,10.3)(120,9.3)(130,8.95)(150,9.35)(155,9.1)(60,9.1)(65,8.9)
(35,10.0)(37,9.85)(38,10.15)(40,9.95)(41,9.75)(42,10.1)(43,9.9)(44,10.2)(45,9.8)(45,10.05)(46,9.95)(47,9.7)(48,10.1)(48,9.9)(49,9.8)(50,10.0)(50,10.15)(51,9.85)(52,9.95)(52,9.7)(53,10.05)(54,9.9)(55,9.75)(55,10.1)(56,9.85)(57,9.65)(58,9.95)(58,9.8)(59,10.05)(60,9.7)(60,9.9)(61,9.6)(62,9.85)(63,9.75)(64,9.95)(65,9.55)(65,9.8)(66,9.7)(67,9.9)(68,9.6)(69,9.75)(70,9.5)(70,9.85)(71,9.65)(72,9.75)(73,9.55)(74,9.7)(75,9.45)(76,9.65)(77,9.55)(78,9.75)(79,9.5)(80,9.6)(81,9.45)(82,9.7)(84,9.55)(86,9.65)(88,9.5)(90,9.6)(92,9.45)(94,9.55)(96,9.4)(98,9.6)(100,9.5)(100,9.35)(100,9.25)(101,9.45)(103,9.55)(105,9.4)(107,9.5)(110,9.35)(112,9.55)(115,9.45)(118,9.3)(120,9.5)(122,9.4)(125,9.3)(125,9.5)(125,9.6)(128,9.4)(132,9.5)(136,9.35)(140,9.45)(145,9.55)(150,9.45)
(46,10.02)(47,9.92)(48,10.04)(50,9.88)(51,9.98)(53,9.94)(55,9.9)(57,9.86)(60,9.82)(62,9.78)(64,9.72)(56,9.96)(52,10.08)
(30,9.9)(35,9.6)(40,9.4)(45,9.5)(55,9.4)(65,9.3)(75,9.2)(85,9.3)(95,9.2)(40,10.3)(60,10.2)(70,10.1)(80,10.0)(90,9.9)(110,9.8)(30,10.25)(25,10.3)};
\addplot[pts] coordinates {(38,9.92)(40,10.1)(42,9.82)(44,9.96)(46,9.86)(48,9.94)(50,9.78)(52,9.86)(54,10.02)(56,9.76)(58,9.88)(60,9.64)(62,9.7)(64,9.84)(66,9.62)(68,9.78)(70,9.68)(72,9.58)(74,9.62)(76,9.52)(78,9.62)(80,9.48)(82,9.55)(85,9.62)(88,9.42)(92,9.55)(95,9.48)(100,9.58)(100,9.45)(100,9.4)(105,9.52)(110,9.45)(115,9.38)(120,9.42)(125,9.42)(125,9.35)(130,9.45)(135,9.55)
(36,9.75)(44,9.6)(52,9.55)(58,9.55)(62,9.45)(68,9.45)(74,9.35)(82,9.35)(90,9.75)(96,9.7)(104,9.7)(55,10.3)(65,10.15)(75,10.0)(85,9.85)(28,9.7)(34,10.2)(40,9.6)(112,9.3)(140,9.3)};
\addplot[fit] coordinates {(0,10.21)(200,9.05)};
\end{axis}

\begin{axis}[panel, at={(428.5pt,-762.35pt)}, title={2018}]
\addplot[pts] coordinates {(30,11.2)(85,11.2)(50,11.0)(25,9.1)(70,7.9)(72,7.8)(100,7.6)(102,7.65)(150,9.3)(60,8.8)(40,8.7)(90,8.9)(130,9.85)(160,9.8)(175,9.6)(195,9.8)(110,10.95)(75,10.95)(40,10.8)
(30,10.5)(32,10.3)(33,10.65)(35,10.4)(36,10.2)(37,10.55)(38,10.35)(39,10.1)(40,10.45)(41,10.25)(42,10.6)(43,10.35)(44,10.15)(45,10.45)(45,10.3)(46,10.2)(47,10.4)(48,10.25)(49,10.05)(50,10.35)(50,10.15)(51,10.45)(52,10.2)(53,10.3)(54,10.0)(55,10.25)(55,10.4)(56,10.1)(57,10.3)(58,9.95)(59,10.2)(60,10.35)(60,10.05)(61,10.15)(62,9.9)(63,10.25)(64,10.0)(65,10.15)(65,9.85)(66,10.3)(67,10.05)(68,9.9)(69,10.2)(70,10.0)(70,9.8)(71,10.1)(72,9.95)(73,10.2)(74,9.85)(75,10.05)(76,9.9)(77,10.15)(78,9.8)(79,10.0)(80,9.9)(80,9.7)(81,10.1)(82,9.85)(83,9.95)(84,9.75)(85,10.05)(86,9.85)(87,9.7)(88,9.95)(89,9.8)(90,10.0)(90,9.65)(92,9.85)(94,9.95)(95,9.7)(96,9.9)(98,9.75)(100,9.85)(100,9.6)(102,9.95)(104,9.75)(106,9.85)(108,9.65)(110,9.9)(112,9.75)(114,9.85)(116,9.6)(118,9.8)(120,9.7)(122,9.9)(124,9.65)(126,9.8)(128,9.6)(130,9.75)(135,9.65)(140,9.8)(145,9.6)(150,9.75)(160,9.55)(170,9.7)(180,9.6)(190,9.65)
(45,10.22)(47,10.18)(50,10.12)(52,10.1)(55,10.08)(60,10.0)(75,9.88)(76,9.82)(80,9.92)(82,9.78)(95,9.82)(100,9.78)(110,9.72)(125,9.55)(125,9.65)
(35,9.8)(45,9.6)(55,9.5)(65,9.45)(75,9.4)(85,9.3)(95,9.2)(110,9.3)(120,9.35)(40,9.55)(50,9.25)(65,9.1)(80,9.0)(95,9.45)(100,9.15)(115,9.2)(45,10.75)(65,10.6)(85,10.5)(100,10.35)(120,10.2)(140,10.25)(60,10.55)(75,10.45)};
\addplot[pts] coordinates {(34,10.48)(38,10.42)(42,10.28)(44,10.42)(46,10.32)(48,10.18)(50,10.28)(52,10.38)(54,10.22)(56,10.18)(58,10.08)(60,10.18)(62,10.08)(64,10.12)(66,10.02)(68,10.08)(70,9.95)(72,10.05)(74,9.98)(76,9.92)(78,10.02)(80,9.82)(82,9.95)(84,9.88)(86,9.78)(88,9.82)(90,9.88)(92,9.75)(95,9.88)(98,9.82)(100,9.72)(104,9.82)(108,9.72)(112,9.68)(116,9.78)(120,9.62)(124,9.72)(130,9.65)(138,9.7)(148,9.6)
(40,10.0)(50,9.85)(58,9.7)(68,9.6)(78,9.55)(88,9.5)(98,9.55)(108,9.45)(118,9.5)(40,10.65)(55,10.55)(70,10.4)(90,10.25)(110,10.1)(130,10.05)(35,10.15)(45,9.9)(60,9.3)(105,9.05)(150,9.55)};
\addplot[fit] coordinates {(0,10.41)(200,9.43)};
\end{axis}
\end{tikzpicture}
\end{document}
